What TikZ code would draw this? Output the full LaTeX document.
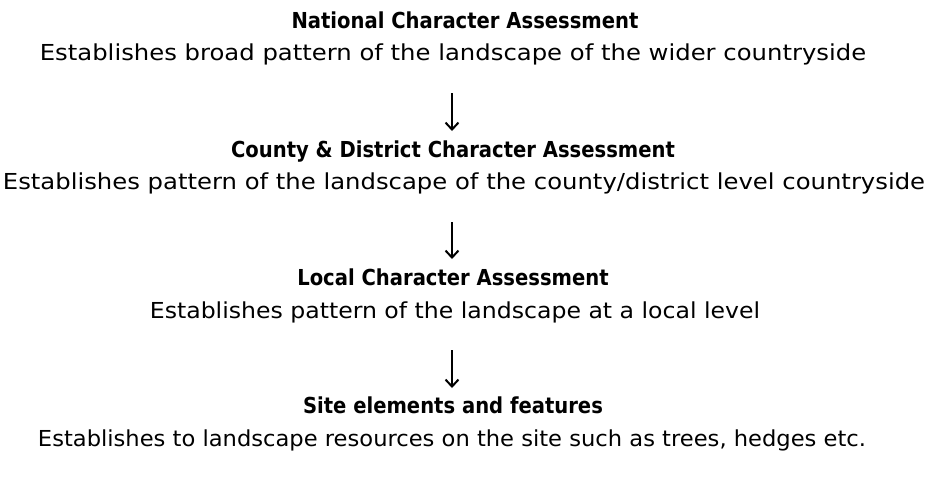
\documentclass[tikz,border=0pt]{standalone}
\usepackage{fontspec}
\setmainfont{DejaVu Sans}
\newfontfamily\bodyfont[FakeStretch=1.105]{DejaVu Sans}
\newfontfamily\titlefont[FakeStretch=0.89]{DejaVu Sans Bold}
\usetikzlibrary{arrows.meta}
\begin{document}
\begin{tikzpicture}[x=1pt,y=1pt,
  ttl/.style={anchor=base,inner sep=0pt,font=\fontsize{22}{24}\titlefont},
  sub/.style={anchor=base,inner sep=0pt,font=\fontsize{22}{24}\bodyfont},
  flow/.style={line width=1.6pt,-{Straight Barb[length=7pt,width=13pt,line width=2pt]}}]
\useasboundingbox (0,0) rectangle (930,-477);
\node[ttl] (t1) at (465,-28) {National Character Assessment};
\node[sub] (s1) at (453,-60) {Establishes broad pattern of the landscape of the wider countryside};
\node[ttl] (t2) at (453,-157) {County \& District Character Assessment};
\node[sub] (s2) at (464,-189) {Establishes pattern of the landscape of the county/district level countryside};
\node[ttl] (t3) at (453,-285) {Local Character Assessment};
\node[sub,xscale=0.97] (s3) at (455,-318) {Establishes pattern of the landscape at a local level};
\node[ttl] (t4) at (453,-413) {Site elements and features};
\node[sub,xscale=0.93] (s4) at (452,-446) {Establishes to landscape resources on the site such as trees, hedges etc.};
\coordinate (a1s) at (452,-93); \coordinate (a1e) at (452,-131);
\coordinate (a2s) at (452,-222); \coordinate (a2e) at (452,-259);
\coordinate (a3s) at (452,-350); \coordinate (a3e) at (452,-388);
\draw[flow] (a1s) -- (a1e);
\draw[flow] (a2s) -- (a2e);
\draw[flow] (a3s) -- (a3e);
\end{tikzpicture}
\end{document}
